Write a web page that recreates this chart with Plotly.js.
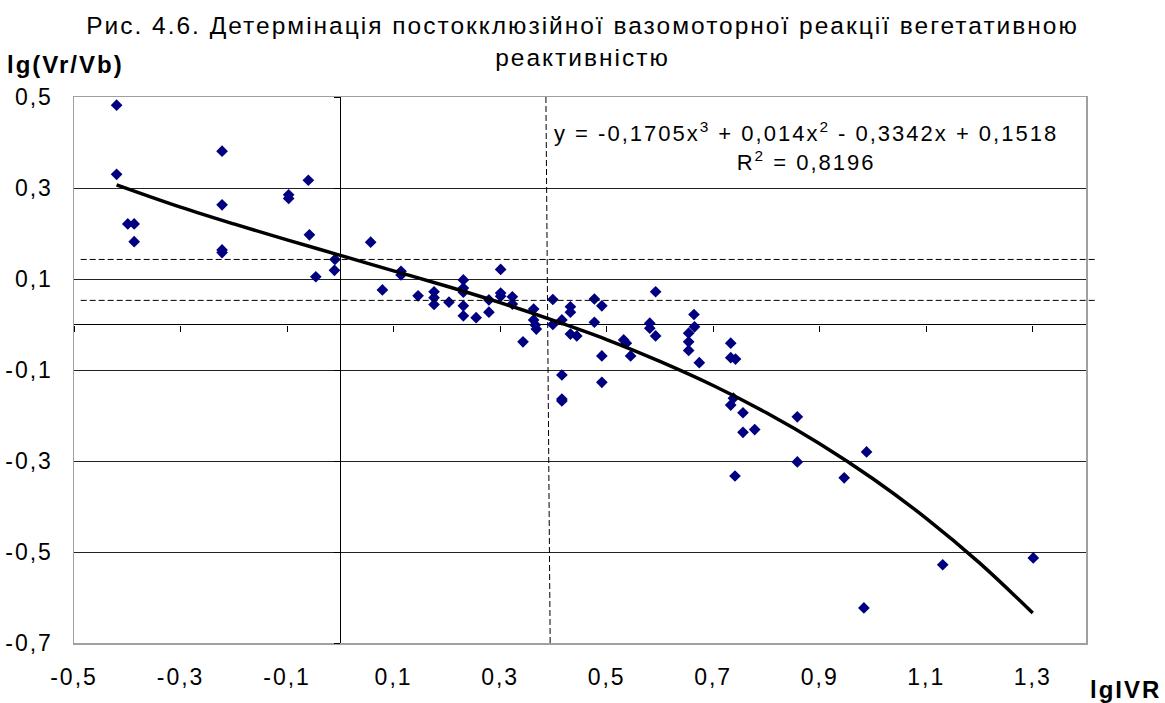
<!DOCTYPE html>
<html>
<head>
<meta charset="utf-8">
<script src="https://cdn.plot.ly/plotly-3.0.1.min.js"></script>
<style>
html, body { margin: 0; padding: 0; background: #fff; }
#chart { width: 1165px; height: 703px; }
#chart text { letter-spacing: 2px; }
</style>
</head>
<body>
<div id="chart"></div>
<script>
// ---- data ----
const pointsX = [
  -0.420, -0.420, -0.399, -0.387, -0.387, -0.222, -0.222, -0.222, -0.222,
  -0.097, -0.097, -0.060, -0.058, -0.046, -0.010, -0.011,
  0.057, 0.079, 0.114, 0.114, 0.146, 0.176, 0.176, 0.176, 0.204,
  0.231, 0.231, 0.231, 0.231, 0.231, 0.255, 0.279, 0.279,
  0.301, 0.301, 0.301, 0.323, 0.323, 0.343, 0.363, 0.363, 0.366, 0.368,
  0.399, 0.399, 0.416, 0.432, 0.432, 0.432, 0.444, 0.416, 0.416, 0.416,
  0.477, 0.491, 0.477, 0.491, 0.491, 0.532, 0.537, 0.545,
  0.581, 0.581, 0.592, 0.592, 0.664, 0.665, 0.654, 0.654, 0.654, 0.674,
  0.733, 0.733, 0.742, 0.738, 0.733, 0.756, 0.756, 0.778, 0.741,
  0.858, 0.858, 0.946, 0.988, 0.983, 1.131, 1.301
];
const pointsY = [
  0.482, 0.330, 0.221, 0.221, 0.182, 0.381, 0.263, 0.164, 0.158,
  0.285, 0.277, 0.317, 0.197, 0.105, 0.143, 0.119,
  0.181, 0.076, 0.117, 0.109, 0.063, 0.072, 0.059, 0.044, 0.049,
  0.098, 0.080, 0.071, 0.041, 0.019, 0.015, 0.054, 0.027,
  0.121, 0.069, 0.062, 0.061, 0.045, -0.038, 0.034, 0.010, -0.001, -0.010,
  0.055, 0.000, 0.010, 0.039, 0.027, -0.021, -0.025, -0.111, -0.164, -0.168,
  0.056, 0.041, 0.005, -0.069, -0.127, -0.034, -0.041, -0.069,
  0.003, -0.008, 0.072, -0.025, 0.022, -0.005, -0.019, -0.038, -0.057, -0.084,
  -0.041, -0.073, -0.076, -0.162, -0.177, -0.194, -0.237, -0.231, -0.333,
  -0.203, -0.302, -0.337, -0.280, -0.623, -0.528, -0.513
];
// polynomial trend line as drawn
const trendX = [-0.42, -0.3, -0.2, -0.1, 0.0, 0.1, 0.2, 0.3, 0.4, 0.5, 0.6, 0.7, 0.8, 0.9, 1.0, 1.1, 1.2, 1.3];
const trendY = [0.307, 0.258, 0.221, 0.186, 0.152, 0.118, 0.084, 0.048, 0.009, -0.033, -0.081, -0.134, -0.194, -0.262, -0.339, -0.426, -0.524, -0.634];

const xTickVals = [-0.5, -0.3, -0.1, 0.1, 0.3, 0.5, 0.7, 0.9, 1.1, 1.3];
const xTickText = ['-0,5', '-0,3', '-0,1', '0,1', '0,3', '0,5', '0,7', '0,9', '1,1', '1,3'];
const yTickVals = [0.5, 0.3, 0.1, -0.1, -0.3, -0.5, -0.7];
const yTickText = ['0,5', '0,3', '0,1', '-0,1', '-0,3', '-0,5', '-0,7'];

const refLevelsY = [0.143, 0.053];
const refLevelX = [0.386, 0.394];

const titleText = 'Рис. 4.6. Детермінація постокклюзійної вазомоторної реакції вегетативною<br>реактивністю';
const equationText = 'y = -0,1705x<sup>3</sup> + 0,014x<sup>2</sup> - 0,3342x + 0,1518<br>R<sup>2</sup> = 0,8196';
const yAxisName = '<b>lg(Vr/Vb)</b>';
const xAxisName = '<b>lgIVR</b>';

// ---- chart ----
const FONT = '"Liberation Sans", Arial, sans-serif';
const xRange = [-0.5, 1.4];
const yRange = [-0.7, 0.5];

const traces = [
  {
    type: 'scatter', mode: 'markers',
    x: pointsX, y: pointsY,
    marker: { symbol: 'diamond', size: 9, color: '#000080' },
    hoverinfo: 'x+y'
  },
  {
    type: 'scatter', mode: 'lines',
    x: trendX, y: trendY,
    xaxis: 'x2', yaxis: 'y2',
    line: { color: '#000', width: 3.5, shape: 'spline' },
    hoverinfo: 'skip'
  }
];

const shapes = refLevelsY.map(v => ({
  type: 'line', xref: 'paper', yref: 'y',
  x0: 0.0066, x1: 1.011, y0: v, y1: v,
  line: { color: '#000', width: 1, dash: '6px,3px' }
}));
shapes.push({
  type: 'line', xref: 'x', yref: 'paper',
  x0: refLevelX[0], x1: refLevelX[1], y0: 1, y1: 0,
  line: { color: '#000', width: 1, dash: '6px,3px' }
});

const layout = {
  width: 1165, height: 703,
  margin: { l: 74, r: 79, t: 97, b: 60 },
  paper_bgcolor: '#fff', plot_bgcolor: '#fff',
  font: { family: FONT, size: 23, color: '#000' },
  showlegend: false,
  title: {
    text: titleText,
    font: { family: FONT, size: 24.5, color: '#000' },
    xref: 'container', x: 0.5, xanchor: 'center',
    yref: 'container', y: 0.951, yanchor: 'top'
  },
  xaxis: {
    range: xRange, tickmode: 'array', tickvals: xTickVals, ticktext: xTickText,
    showgrid: false, zeroline: true, zerolinecolor: '#000', zerolinewidth: 1,
    showline: true, mirror: true, linecolor: '#a0a0a0', linewidth: 1.5,
    ticks: 'outside', ticklen: 13, tickcolor: 'rgba(0,0,0,0)',
    tickfont: { family: FONT, size: 23, color: '#000' }
  },
  yaxis: {
    range: yRange, tickmode: 'array', tickvals: yTickVals, ticktext: yTickText,
    showgrid: true, gridcolor: '#222', gridwidth: 1,
    zeroline: true, zerolinecolor: '#000', zerolinewidth: 1,
    showline: true, mirror: true, linecolor: '#a0a0a0', linewidth: 1.5,
    ticks: 'outside', ticklen: 15, tickcolor: 'rgba(0,0,0,0)',
    tickfont: { family: FONT, size: 23, color: '#000' }
  },
  xaxis2: {
    overlaying: 'x', anchor: 'free', position: 0.7 / 1.2, side: 'bottom',
    range: xRange, tickmode: 'array', tickvals: xTickVals,
    showticklabels: false, showgrid: false, zeroline: false, showline: false,
    ticks: 'outside', ticklen: 6, tickcolor: '#000', tickwidth: 1
  },
  yaxis2: {
    overlaying: 'y', anchor: 'free', position: 0.5 / 1.9, side: 'left',
    range: yRange, tickmode: 'array', tickvals: yTickVals,
    showticklabels: false, showgrid: false, zeroline: false, showline: false,
    ticks: 'outside', ticklen: 6, tickcolor: '#000', tickwidth: 1
  },
  shapes: shapes,
  annotations: [
    {
      text: equationText, xref: 'paper', yref: 'paper',
      x: 0.7233, y: 0.91, xanchor: 'center', yanchor: 'middle', align: 'center',
      showarrow: false, font: { family: FONT, size: 22, color: '#000' }
    },
    {
      text: yAxisName, xref: 'paper', yref: 'paper',
      x: -0.0592, y: 1.0604, xanchor: 'left', yanchor: 'middle',
      showarrow: false, font: { family: FONT, size: 24, color: '#000' }
    },
    {
      text: xAxisName, xref: 'paper', yref: 'paper',
      x: 1.0395, y: -0.086, xanchor: 'center', yanchor: 'middle',
      showarrow: false, font: { family: FONT, size: 24, color: '#000' }
    }
  ]
};

Plotly.newPlot('chart', traces, layout, { displayModeBar: false, staticPlot: true });
</script>
</body>
</html>
